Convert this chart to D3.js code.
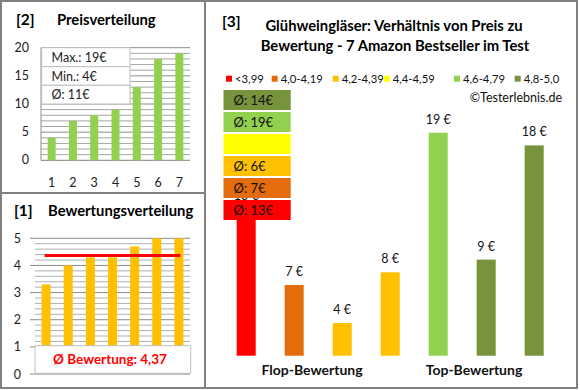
<!DOCTYPE html>
<html>
<head>
<meta charset="utf-8">
<script src="https://cdn.jsdelivr.net/npm/d3@7"></script>
<style>
  body { margin: 0; background: #fff; }
  svg { display: block; font-family: Lato, "Open Sans", sans-serif; }
</style>
</head>
<body>
<svg id="chart" width="580" height="390"></svg>
<script>
// panel [2] price distribution
const priceCats = ["1", "2", "3", "4", "5", "6", "7"];
const prices = [4, 7, 8, 9, 13, 18, 19];
const priceTicks = [0, 5, 10, 15, 20];
const priceStats = ["Max.: 19€", "Min.: 4€", "Ø: 11€"];

// panel [1] rating distribution
const ratings = [3.3, 4.0, 4.3, 4.3, 4.7, 5.0, 5.0];
const ratingAvg = 4.37;
const ratingTicks = [0, 1, 2, 3, 4, 5];
const ratingText = "Ø Bewertung: 4,37";

// panel [3] price vs rating
const products = ["A", "B", "C", "D", "E", "F", "G"];
const productPrices = [13, 7, 4, 8, 19, 9, 18];
const productColors = ["#FF0000", "#E46C0A", "#FFC000", "#FFC000", "#92D050", "#77933C", "#77933C"];
const groups = ["Flop-Bewertung", "Top-Bewertung"];
const legendLabels = ["<3,99", "4,0-4,19", "4,2-4,39", "4,4-4,59", "4,6-4,79", "4,8-5,0"];
const legendColors = ["#FF0000", "#E46C0A", "#FFC000", "#FFFF00", "#92D050", "#77933C"];
const avgLabels = ["Ø: 13€", "Ø: 7€", "Ø: 6€", "", "Ø: 19€", "Ø: 14€"]; // same order as legend

const svg = d3.select('#chart');
svg.append('rect').attr('width', 580).attr('height', 390).attr('fill', '#fff');

// ---------- panel [2] ----------
const p2 = svg.append('g');
p2.append('text').attr('x', 16).attr('y', 25).attr('font-weight', 'bold').attr('font-size', 15.5).text('[2]');
p2.append('text').attr('x', 57).attr('y', 25).attr('font-weight', 'bold').attr('font-size', 14.8).text('Preisverteilung');

const x2 = d3.scaleBand().domain(priceCats).range([41, 190]).paddingInner(0.624).paddingOuter(0.312);
const y2 = d3.scaleLinear().domain([0, 20]).range([160.3, 47.7]);

p2.selectAll('line.grid').data(d3.range(1, 21)).enter().append('line')
  .attr('x1', 41).attr('x2', 190)
  .attr('y1', d => y2(d)).attr('y2', d => y2(d))
  .attr('stroke', d => d % 5 === 0 ? '#8c8c8c' : '#a6a6a6').attr('stroke-width', 1);
p2.append('line').attr('x1', 41).attr('x2', 41).attr('y1', y2(20)).attr('y2', y2(0)).attr('stroke', '#8c8c8c');
p2.append('line').attr('x1', 41).attr('x2', 190).attr('y1', y2(0)).attr('y2', y2(0)).attr('stroke', '#808080');

p2.selectAll('rect.bar').data(prices).enter().append('rect')
  .attr('x', (d, i) => x2(priceCats[i])).attr('width', x2.bandwidth())
  .attr('y', d => y2(d)).attr('height', d => y2(0) - y2(d))
  .attr('fill', '#92D050');

p2.selectAll('text.yl').data(priceTicks).enter().append('text')
  .attr('x', 29).attr('y', d => y2(d) + 4).attr('text-anchor', 'end')
  .attr('font-size', 12.5).attr('fill', '#222').text(d => d);
p2.selectAll('text.xl').data(priceCats).enter().append('text')
  .attr('x', d => x2(d) + x2.bandwidth() / 2).attr('y', 187)
  .attr('text-anchor', 'middle').attr('font-size', 12.5).attr('fill', '#222').text(d => d);

// stats box
const boxRows = [47.7, 66.7, 85.3, 104];
p2.selectAll('rect.stat').data(priceStats).enter().append('rect')
  .attr('x', 41.7).attr('width', 88.3)
  .attr('y', (d, i) => boxRows[i]).attr('height', (d, i) => boxRows[i + 1] - boxRows[i])
  .attr('fill', '#fff').attr('stroke', '#bfbfbf');
p2.selectAll('text.stat').data(priceStats).enter().append('text')
  .attr('x', 51.5).attr('y', (d, i) => (boxRows[i] + boxRows[i + 1]) / 2 + 4.5)
  .attr('font-size', 12.5).attr('fill', '#222').text(d => d);

// ---------- panel [1] ----------
const p1 = svg.append('g');
p1.append('text').attr('x', 14).attr('y', 216).attr('font-weight', 'bold').attr('font-size', 15.5).text('[1]');
p1.append('text').attr('x', 48).attr('y', 216).attr('font-weight', 'bold').attr('font-size', 14.8).text('Bewertungsverteilung');

const x1 = d3.scaleBand().domain(priceCats).range([35, 190]).paddingInner(0.594).paddingOuter(0.297);
const y1 = d3.scaleLinear().domain([0, 5]).range([374, 238.3]);

p1.selectAll('line.grid').data(d3.range(1, 26).map(d => d / 5)).enter().append('line')
  .attr('x1', 35).attr('x2', 190)
  .attr('y1', d => y1(d)).attr('y2', d => y1(d))
  .attr('stroke', d => Math.abs(d - Math.round(d)) < 1e-6 ? '#8c8c8c' : '#b0b0b0');
p1.selectAll('line.tick').data(ratingTicks).enter().append('line')
  .attr('x1', 30).attr('x2', 35).attr('y1', d => y1(d)).attr('y2', d => y1(d)).attr('stroke', '#8c8c8c');
p1.append('line').attr('x1', 35).attr('x2', 190).attr('y1', y1(0)).attr('y2', y1(0)).attr('stroke', '#808080');

p1.selectAll('rect.bar').data(ratings).enter().append('rect')
  .attr('x', (d, i) => x1(priceCats[i])).attr('width', x1.bandwidth())
  .attr('y', d => y1(d)).attr('height', d => y1(0) - y1(d))
  .attr('fill', '#FFC000');

p1.append('line')
  .attr('x1', x1(priceCats[0]) + x1.bandwidth() / 2).attr('x2', x1(priceCats[6]) + x1.bandwidth() / 2)
  .attr('y1', y1(ratingAvg)).attr('y2', y1(ratingAvg))
  .attr('stroke', '#FF0000').attr('stroke-width', 3).attr('stroke-linecap', 'square');

p1.selectAll('text.yl').data(ratingTicks).enter().append('text')
  .attr('x', 21).attr('y', d => y1(d) + 4.5).attr('text-anchor', 'end')
  .attr('font-size', 12.5).attr('fill', '#222').text(d => d);

p1.append('rect').attr('x', 35).attr('y', 345.7).attr('width', 155.7).attr('height', 27.6)
  .attr('fill', '#fff').attr('stroke', '#bfbfbf');
p1.append('text').attr('x', 110).attr('y', 364).attr('text-anchor', 'middle')
  .attr('font-weight', 'bold').attr('font-size', 13.5).attr('fill', '#FF0000').text(ratingText);

// ---------- panel [3] ----------
const p3 = svg.append('g');
p3.append('text').attr('x', 222).attr('y', 27).attr('font-weight', 'bold').attr('font-size', 15.5).text('[3]');
p3.append('text').attr('x', 394).attr('y', 31).attr('text-anchor', 'middle')
  .attr('font-weight', 'bold').attr('font-size', 14.8).text('Glühweingläser: Verhältnis von Preis zu');
p3.append('text').attr('x', 395).attr('y', 50.5).attr('text-anchor', 'middle')
  .attr('font-weight', 'bold').attr('font-size', 14.8).text('Bewertung - 7 Amazon Bestseller im Test');

// legend
const legX = [226, 271.7, 332.7, 383.7, 454, 514.7];
const leg = p3.selectAll('g.leg').data(legendLabels).enter().append('g')
  .attr('transform', (d, i) => `translate(${legX[i]},78.7)`);
leg.append('rect').attr('x', 0).attr('y', -3).attr('width', 6).attr('height', 6)
  .attr('fill', (d, i) => legendColors[i]);
leg.append('text').attr('x', 9).attr('y', 4.3).attr('font-size', 11.3).attr('fill', '#111').text(d => d);

p3.append('text').attr('x', 562).attr('y', 101.5).attr('text-anchor', 'end')
  .attr('font-size', 12.5).attr('fill', '#111').text('©Testerlebnis.de');

const x3 = d3.scaleBand().domain(products).range([222.2, 558.2]).paddingInner(0.604).paddingOuter(0.302);
const y3 = d3.scaleLinear().domain([1.43, 20]).range([355.7, 120]);

p3.selectAll('rect.bar').data(productPrices).enter().append('rect')
  .attr('x', (d, i) => x3(products[i])).attr('width', x3.bandwidth())
  .attr('y', d => y3(d)).attr('height', d => y3(y3.domain()[0]) - y3(d))
  .attr('fill', (d, i) => productColors[i]);
p3.selectAll('text.val').data(productPrices).enter().append('text')
  .attr('x', (d, i) => x3(products[i]) + x3.bandwidth() / 2).attr('y', d => y3(d) - 9)
  .attr('text-anchor', 'middle').attr('font-size', 12.5).attr('fill', '#111').text(d => d + ' €');

// group labels
const groupX = [312, 474];
p3.selectAll('text.grp').data(groups).enter().append('text')
  .attr('x', (d, i) => groupX[i]).attr('y', 375).attr('text-anchor', 'middle')
  .attr('font-weight', 'bold').attr('font-size', 14).attr('fill', '#111').text(d => d);

// average price boxes, stacked top = best rating
const boxData = legendColors.map((c, i) => ({ color: c, label: avgLabels[i] })).reverse();
const boxes = p3.selectAll('g.avg').data(boxData).enter().append('g')
  .attr('transform', (d, i) => `translate(223.5,${90 + i * 22})`);
boxes.append('rect').attr('width', 67.2).attr('height', 20).attr('fill', d => d.color);
boxes.append('text').attr('x', 10).attr('y', 14.5).attr('font-size', 13).attr('fill', '#111').text(d => d.label);

// ---------- frame ----------
const frame = svg.append('g').attr('stroke', '#808080').attr('stroke-width', 2).attr('fill', 'none');
frame.append('rect').attr('x', 1).attr('y', 1).attr('width', 576).attr('height', 387);
frame.append('line').attr('x1', 205).attr('x2', 205).attr('y1', 1).attr('y2', 388);
frame.append('line').attr('x1', 1).attr('x2', 205).attr('y1', 193).attr('y2', 193);
</script>
</body>
</html>
